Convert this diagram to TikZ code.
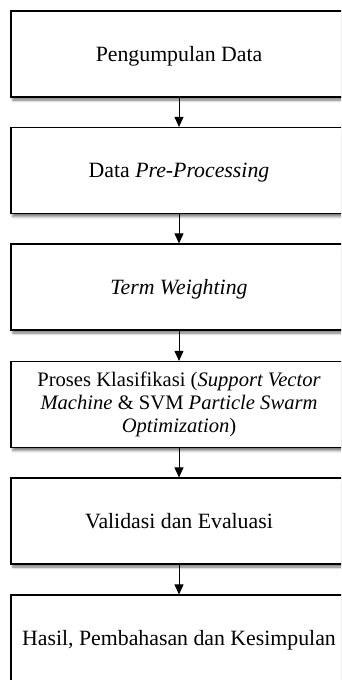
\documentclass[tikz,border=0pt]{standalone}
\usepackage{fontspec}
\setmainfont{Liberation Serif}
\usetikzlibrary{arrows.meta,shadows.blur}

\tikzset{
  stagebox/.style={
    draw=black, line width=1.2pt, fill=white, rectangle,
    minimum width=336pt, minimum height=86pt, inner sep=0pt,
    align=center, text height=14.4pt, text depth=0pt,
    font=\fontsize{21.8}{23}\selectfont,
    blur shadow={shadow xshift=2pt, shadow yshift=-3pt,
                 shadow blur radius=2.5pt, shadow opacity=55}
  },
  % multi-line box: natural height of the text block
  multibox/.style={stagebox, text height=, text depth=,
    font=\fontsize{20.6}{23}\selectfont},
  flowarrow/.style={
    draw=black, line width=1pt,
    -{Triangle[width=9pt,length=10pt]}
  }
}

\begin{document}
\begin{tikzpicture}[x=1pt, y=-1pt]
  \useasboundingbox (0,0) rectangle (341,680);
  \clip (0,0) rectangle (341,680);

  % research stages, top to bottom
  \node[stagebox] (b1) at (179,54)    {Pengumpulan Data};
  \node[stagebox] (b2) at (179,170.5) {Data \textit{Pre-Processing}};
  \node[stagebox] (b3) at (179,287)   {\textit{Term Weighting}};
  \node[multibox] (b4) at (179,404.5) {Proses Klasifikasi (\textit{Support Vector}\\
                                        \textit{Machine} \& SVM \textit{Particle Swarm}\\
                                        \textit{Optimization})};
  \node[stagebox] (b5) at (179,521)   {Validasi dan Evaluasi};
  \node[stagebox] (b6) at (179,638)   {Hasil, Pembahasan dan Kesimpulan};

  % flow between stages
  \draw[flowarrow] (b1.south) -- (b2.north);
  \draw[flowarrow] (b2.south) -- (b3.north);
  \draw[flowarrow] (b3.south) -- (b4.north);
  \draw[flowarrow] (b4.south) -- (b5.north);
  \draw[flowarrow] (b5.south) -- (b6.north);
\end{tikzpicture}
\end{document}
